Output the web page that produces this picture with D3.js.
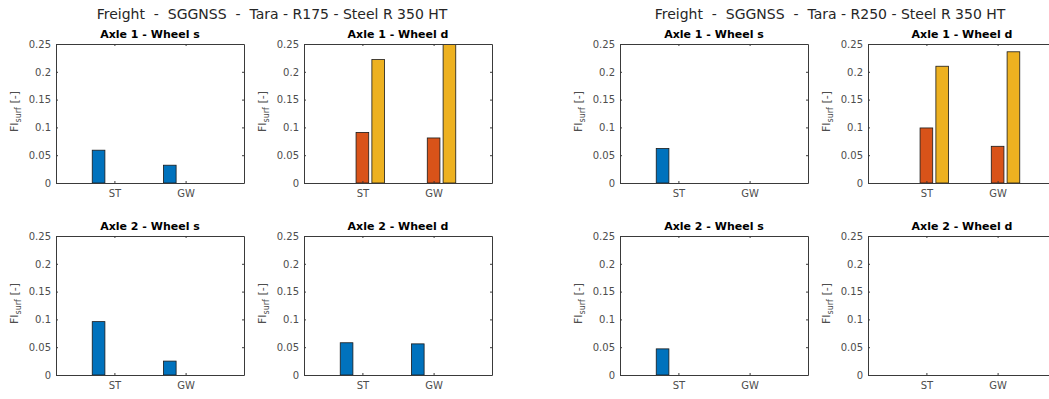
<!DOCTYPE html>
<html>
<head>
<meta charset="utf-8">
<script src="https://cdn.jsdelivr.net/npm/d3@7"></script>
<style>
  body { margin: 0; background: #fff; }
  svg { display: block; font-family: "DejaVu Sans", sans-serif; }
</style>
</head>
<body>
<div class="fig"></div>
<script>
// categories on the x axis and the y ticks used everywhere
const categories = ["ST", "GW"]
const yTicks = [0, 0.05, 0.1, 0.15, 0.2, 0.25]
const figTitles = [
    "Freight  -  SGGNSS  -  Tara - R175 - Steel R 350 HT",
    "Freight  -  SGGNSS  -  Tara - R250 - Steel R 350 HT"
]
const panelTitles = ["Axle 1 - Wheel s", "Axle 1 - Wheel d", "Axle 2 - Wheel s", "Axle 2 - Wheel d"]
const seriesColors = ["#0072BD", "#D95319", "#EDB120"]

// values per category: [series 1, series 2, series 3]
const r175Axle1WheelS = [[0.059, 0, 0], [0.032, 0, 0]]
const r175Axle1WheelD = [[0, 0.091, 0.222], [0, 0.081, 0.27]]
const r175Axle2WheelS = [[0.096, 0, 0], [0.025, 0, 0]]
const r175Axle2WheelD = [[0.058, 0, 0], [0.056, 0, 0]]
const r250Axle1WheelS = [[0.062, 0, 0], [0, 0, 0]]
const r250Axle1WheelD = [[0, 0.099, 0.21], [0, 0.066, 0.236]]
const r250Axle2WheelS = [[0.047, 0, 0], [0, 0, 0]]
const r250Axle2WheelD = [[0, 0, 0], [0, 0, 0]]

let width = 1049
let height = 399
let pw = 188, ph = 139

let svg = d3.select(".fig").append("svg")
    .attr("width", width)
    .attr("height", height)

// one entry per subplot: position + data
let panels = [
    {x: 56, y: 44, title: panelTitles[0], data: r175Axle1WheelS},
    {x: 304, y: 44, title: panelTitles[1], data: r175Axle1WheelD},
    {x: 56, y: 236, title: panelTitles[2], data: r175Axle2WheelS},
    {x: 304, y: 236, title: panelTitles[3], data: r175Axle2WheelD},
    {x: 620, y: 44, title: panelTitles[0], data: r250Axle1WheelS},
    {x: 868, y: 44, title: panelTitles[1], data: r250Axle1WheelD},
    {x: 620, y: 236, title: panelTitles[2], data: r250Axle2WheelS},
    {x: 868, y: 236, title: panelTitles[3], data: r250Axle2WheelD}
]

// main titles, centred over each pair of columns
svg.selectAll(".figtitle")
    .data(figTitles)
    .enter()
    .append("text")
    .attr("x", (d, i) => i === 0 ? 272 : 830)
    .attr("y", 19)
    .attr("text-anchor", "middle")
    .style("white-space", "pre")
    .style("font-size", "14px")
    .attr("fill", "#262626")
    .text(d => d)

let x = d3.scaleLinear().domain([0.18, 2.82]).range([0, pw])
let y = d3.scaleLinear().domain([0, 0.25]).range([ph, 0])

// grouped bar offsets like matlab: 3 bars, group width 2/3
let nb = 3
let gw = nb / (nb + 1.5)
let bw = gw / nb * 0.8
let offset = i => -gw / 2 + (2 * i + 1) * gw / (2 * nb)

let fmt = d => d === 0 ? "0" : String(+d.toFixed(2))

panels.forEach((p, k) => {
    let g = svg.append("g").attr("transform", "translate(" + p.x + "," + p.y + ")")

    g.append("clipPath").attr("id", "clip" + k)
        .append("rect").attr("width", pw).attr("height", ph)

    let bars = []
    p.data.forEach((vals, c) => {
        vals.forEach((v, s) => bars.push({c: c + 1, s: s, v: v}))
    })

    g.append("g").attr("clip-path", "url(#clip" + k + ")")
        .selectAll("rect")
        .data(bars)
        .enter()
        .append("rect")
        .attr("x", d => x(d.c + offset(d.s) - bw / 2))
        .attr("width", d => x(bw) - x(0))
        .attr("y", d => y(d.v))
        .attr("height", d => y(0) - y(d.v))
        .attr("fill", d => seriesColors[d.s])
        .attr("stroke", "#1a1a1a")
        .attr("stroke-width", 0.8)

    let ax = (a) => a.tickSizeInner(-2).tickSizeOuter(0)
    g.append("g").attr("class", "ax")
        .call(ax(d3.axisLeft(y).tickValues(yTicks).tickFormat(fmt).tickPadding(5)))
    g.append("g").attr("class", "ax").attr("transform", "translate(" + pw + ",0)")
        .call(ax(d3.axisRight(y).tickValues(yTicks).tickFormat("")))
    g.append("g").attr("class", "ax").attr("transform", "translate(0," + ph + ")")
        .call(ax(d3.axisBottom(x).tickValues([1, 2]).tickFormat((d, i) => categories[i]).tickPadding(7)))
    g.append("g").attr("class", "ax")
        .call(ax(d3.axisTop(x).tickValues([1, 2]).tickFormat("")))

    g.selectAll(".ax path, .ax line").attr("stroke", "#3a3a3a")
    g.selectAll(".ax text").attr("fill", "#4d4d4d").style("font-size", "10px")
        .style("font-family", "DejaVu Sans, sans-serif")

    g.append("text")
        .attr("x", pw / 2)
        .attr("y", -6)
        .attr("text-anchor", "middle")
        .style("font-size", "11px")
        .style("font-weight", "bold")
        .text(p.title)

    let yl = g.append("text")
        .attr("transform", "translate(-38," + (ph / 2 - 2) + ") rotate(-90)")
        .attr("text-anchor", "middle")
        .attr("fill", "#4d4d4d")
        .style("font-size", "11px")
    yl.append("tspan").text("FI")
    yl.append("tspan").attr("dy", 3).style("font-size", "8px").text("surf")
    yl.append("tspan").attr("dy", -3).text(" [-]")
})
</script>
</body>
</html>
